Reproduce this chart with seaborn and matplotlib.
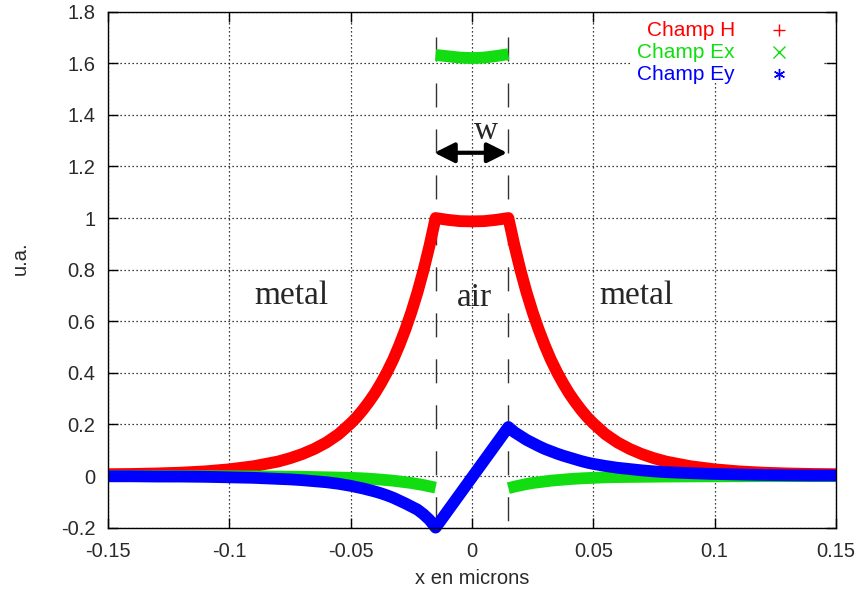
import matplotlib
matplotlib.use("Agg")
import matplotlib.pyplot as plt
from matplotlib.patches import Rectangle
import seaborn as sns
import pandas as pd

# ---------------- data ----------------
x_left = [-0.15, -0.14, -0.13, -0.12, -0.11, -0.10, -0.09, -0.08, -0.075, -0.07,
          -0.065, -0.06, -0.055, -0.05, -0.0475, -0.045, -0.0425, -0.04, -0.0375,
          -0.035, -0.0325, -0.03, -0.0275, -0.025, -0.0225, -0.02, -0.0175, -0.015]
x_air = [-0.015, -0.01, -0.005, 0.0, 0.005, 0.01, 0.015]
x_right = [0.015, 0.0175, 0.02, 0.0225, 0.025, 0.0275, 0.03, 0.0325, 0.035, 0.0375,
           0.04, 0.0425, 0.045, 0.0475, 0.05, 0.055, 0.06, 0.065, 0.07, 0.075,
           0.08, 0.09, 0.10, 0.11, 0.12, 0.13, 0.14, 0.15]

h_left = [0.007, 0.008, 0.010, 0.013, 0.018, 0.026, 0.038, 0.056, 0.069, 0.085,
          0.105, 0.130, 0.162, 0.204, 0.228, 0.256, 0.287, 0.321, 0.360, 0.403,
          0.451, 0.506, 0.567, 0.635, 0.711, 0.797, 0.893, 1.0]
h_air = [1.0, 0.993, 0.988, 0.987, 0.988, 0.993, 1.0]
h_right = [1.0, 0.893, 0.797, 0.711, 0.635, 0.567, 0.506, 0.451, 0.403, 0.360,
           0.321, 0.287, 0.256, 0.228, 0.204, 0.162, 0.130, 0.105, 0.085, 0.069,
           0.056, 0.038, 0.026, 0.018, 0.013, 0.010, 0.008, 0.007]

ex_left = [-0.0003, -0.0003, -0.0004, -0.0005, -0.0007, -0.001, -0.0015, -0.002,
           -0.0025, -0.003, -0.004, -0.005, -0.006, -0.007, -0.008, -0.009, -0.0105,
           -0.012, -0.014, -0.016, -0.018, -0.021, -0.024, -0.027, -0.031, -0.035,
           -0.040, -0.045]
ex_air = [1.632, 1.627, 1.622, 1.620, 1.622, 1.628, 1.635]
ex_right = [-0.047, -0.041, -0.036, -0.031, -0.027, -0.024, -0.021, -0.018, -0.016,
            -0.014, -0.012, -0.0105, -0.009, -0.008, -0.007, -0.005, -0.004, -0.0035,
            -0.003, -0.0025, -0.002, -0.0015, -0.001, -0.0007, -0.0005, -0.0004,
            -0.0003, -0.0003]

ey_left = [-0.001, -0.001, -0.002, -0.002, -0.003, -0.005, -0.007, -0.011, -0.013,
           -0.016, -0.020, -0.024, -0.030, -0.038, -0.043, -0.048, -0.054, -0.060,
           -0.067, -0.075, -0.084, -0.095, -0.106, -0.118, -0.130, -0.148, -0.170,
           -0.200]
ey_air = [-0.200, -0.135, -0.070, -0.005, 0.060, 0.125, 0.190]
ey_right = [0.190, 0.170, 0.155, 0.140, 0.128, 0.116, 0.105, 0.096, 0.087, 0.079,
            0.072, 0.065, 0.058, 0.052, 0.047, 0.039, 0.032, 0.027, 0.022, 0.018,
            0.015, 0.011, 0.008, 0.006, 0.004, 0.003, 0.002, 0.002]

series_names = ["Champ H", "Champ Ex", "Champ Ey"]
series_colors = ["#ff0000", "#11dd11", "#0000ff"]
series_markers = ["+", "x", (6, 2, 0)]

x_ticks = [-0.15, -0.1, -0.05, 0, 0.05, 0.1, 0.15]
x_tick_labels = ["-0.15", "-0.1", "-0.05", "0", "0.05", "0.1", "0.15"]
y_ticks = [-0.2, 0, 0.2, 0.4, 0.6, 0.8, 1.0, 1.2, 1.4, 1.6, 1.8]
y_tick_labels = ["-0.2", "0", "0.2", "0.4", "0.6", "0.8", "1", "1.2", "1.4", "1.6", "1.8"]

interfaces = [-0.015, 0.015]
region_labels = ["metal", "air", "metal"]
region_x = [-0.0746, 0.001, 0.0676]
region_y = [0.70, 0.69, 0.70]

# ---------------- build tables ----------------
def seg_frame(xs, ys, seg):
    return pd.DataFrame({"x": xs, "y": ys, "seg": seg})

df_h = seg_frame(x_left + x_air[1:] + x_right[1:], h_left + h_air[1:] + h_right[1:], 0)
df_ex = pd.concat([seg_frame(x_left, ex_left, 0),
                   seg_frame(x_air, ex_air, 1),
                   seg_frame(x_right, ex_right, 2)])
df_ey = seg_frame(x_left + x_air[1:] + x_right[1:], ey_left + ey_air[1:] + ey_right[1:], 0)
frames = [df_h, df_ex, df_ey]

# ---------------- style ----------------
sns.set_style("white")
plt.rcParams["font.family"] = ["Liberation Sans", "DejaVu Sans"]

fig = plt.figure(figsize=(8.62, 5.97), dpi=100)
ax = fig.add_axes([0.1253, 0.1162, 0.8445, 0.8643])

ax.set_xlim(-0.15, 0.15)
ax.set_ylim(-0.2, 1.8)

# grid
ax.set_axisbelow(True)
ax.grid(True, color="black", linestyle=(0, (1, 2.2)), linewidth=0.9)

# legend background box (hides grid)
ax.add_patch(Rectangle((0.72, 0.8636), 0.262, 0.1364, transform=ax.transAxes,
                       facecolor="white", edgecolor="none", zorder=1))

# interface dashed lines
for xb in interfaces:
    ax.plot([xb, xb], [1.70, -0.2], color="#333333", linewidth=1.0,
            dashes=(17.3, 15.8), zorder=1.5)

# data
for df, col in zip(frames, series_colors):
    sns.lineplot(data=df, x="x", y="y", units="seg", estimator=None, sort=False,
                 color=col, linewidth=8.5, ax=ax, legend=False, zorder=2)
for ln in ax.lines:
    ln.set_clip_on(False)
    ln.set_solid_capstyle("butt")

# arrow for width w
ax.annotate("", xy=(0.0145, 1.253), xytext=(-0.0155, 1.253),
            arrowprops=dict(arrowstyle="<|-|>", lw=3, color="black",
                            mutation_scale=30, shrinkA=0, shrinkB=0), zorder=4)
ax.text(0.0057, 1.34, "w", fontsize=24, family="Liberation Serif",
        ha="center", va="center", zorder=4)

for lab, xx, yy in zip(region_labels, region_x, region_y):
    ax.text(xx, yy, lab, fontsize=24, family="Liberation Serif",
            ha="center", va="center", zorder=4)

# manual legend
leg_y = [0.964, 0.9217, 0.879]
for name, col, mk, yy in zip(series_names, series_colors, series_markers, leg_y):
    ax.text(0.861, yy, name, transform=ax.transAxes, ha="right", va="center",
            fontsize=15, color=col, zorder=4)
    ax.plot([0.922], [yy], transform=ax.transAxes, marker=mk, color=col,
            markersize=8, markeredgewidth=1.0, linestyle="none", zorder=4)

# ticks
ax.set_xticks(x_ticks)
ax.set_xticklabels(x_tick_labels)
ax.set_yticks(y_ticks)
ax.set_yticklabels(y_tick_labels)
ax.tick_params(direction="in", length=7, width=1, colors="black",
               labelcolor="#2a2a2a", labelsize=14.5, top=True, right=True,
               bottom=True, left=True)
ax.tick_params(axis="x", pad=10)
ax.tick_params(axis="y", pad=9)

for sp in ax.spines.values():
    sp.set_color("black")
    sp.set_linewidth(1.0)
    sp.set_zorder(5)

ax.set_xlabel("x en microns", fontsize=14.5, color="#2a2a2a")
ax.set_ylabel("u.a.", fontsize=14.5, color="#2a2a2a")
ax.xaxis.set_label_coords(0.5, -0.08)
ax.yaxis.set_label_coords(-0.107, 0.5225)

fig.savefig("out.png", dpi=100)
